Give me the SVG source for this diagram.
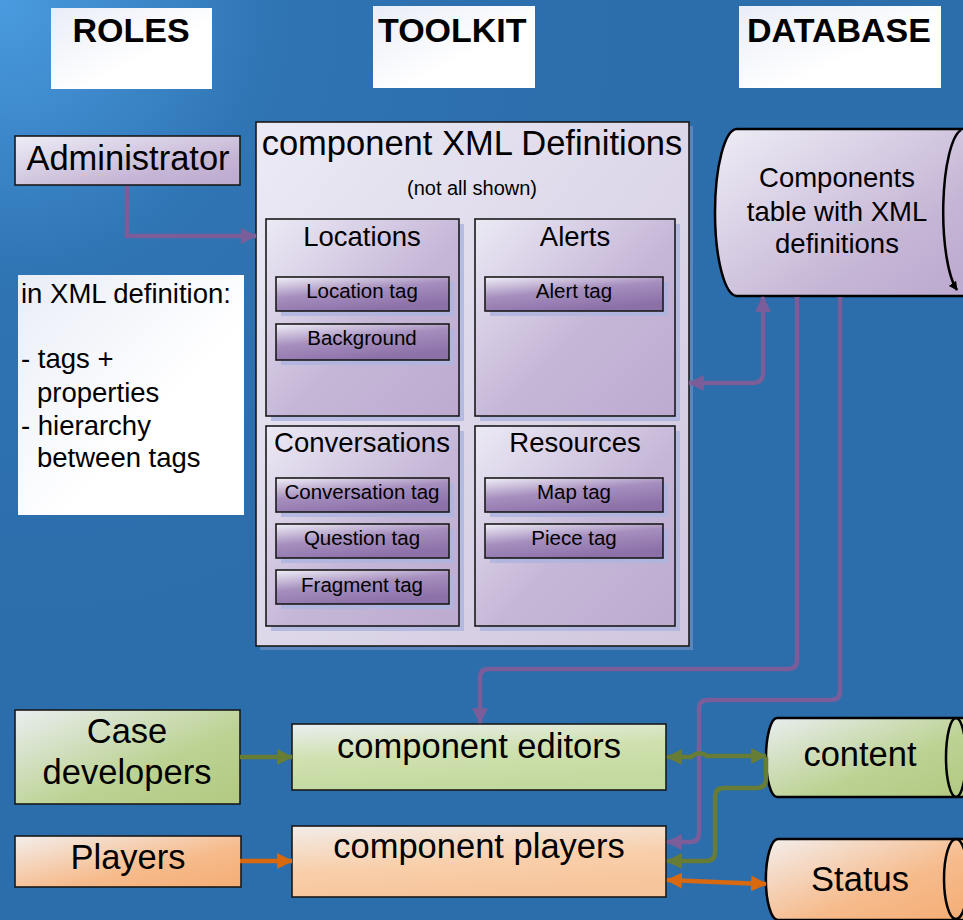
<svg xmlns="http://www.w3.org/2000/svg" width="963" height="920" viewBox="0 0 963 920">
<defs>
<radialGradient id="bg" cx="0" cy="0" r="620" gradientUnits="userSpaceOnUse">
<stop offset="0" stop-color="#4a9be0"/><stop offset="0.45" stop-color="#2f74b3"/><stop offset="1" stop-color="#2c6dab"/>
</radialGradient>
<linearGradient id="gWhite" x1="0" y1="0" x2="1" y2="1"><stop offset="0" stop-color="#e9edf7"/><stop offset="0.6" stop-color="#ffffff"/></linearGradient>
<linearGradient id="gPurple" x1="0" y1="0" x2="1" y2="1"><stop offset="0" stop-color="#eeedf6"/><stop offset="0.7" stop-color="#c5b5d5"/><stop offset="1" stop-color="#bca9cf"/></linearGradient>
<linearGradient id="gBig" x1="0" y1="0" x2="1" y2="1"><stop offset="0" stop-color="#ebeaf5"/><stop offset="1" stop-color="#d0c6de"/></linearGradient>
<linearGradient id="gSub" x1="0" y1="0" x2="1" y2="1"><stop offset="0" stop-color="#eceaf5"/><stop offset="0.55" stop-color="#c5b6d7"/><stop offset="1" stop-color="#bdabcf"/></linearGradient>
<linearGradient id="gTag" x1="0" y1="0" x2="0.5" y2="1"><stop offset="0" stop-color="#f1f0f7"/><stop offset="0.5" stop-color="#a68fbf"/><stop offset="1" stop-color="#8c70a8"/></linearGradient>
<linearGradient id="gGreen" x1="0" y1="0" x2="1" y2="1"><stop offset="0" stop-color="#e9eef0"/><stop offset="0.6" stop-color="#bcd293"/><stop offset="1" stop-color="#b2c981"/></linearGradient>
<linearGradient id="gGreenL" x1="0" y1="0" x2="0.3" y2="1"><stop offset="0" stop-color="#e9eef0"/><stop offset="0.5" stop-color="#d0e1b0"/><stop offset="1" stop-color="#c3d99f"/></linearGradient>
<linearGradient id="gOrange" x1="0" y1="0" x2="1" y2="1"><stop offset="0" stop-color="#f3eeec"/><stop offset="0.6" stop-color="#f6bb8c"/><stop offset="1" stop-color="#f5ad75"/></linearGradient>
<linearGradient id="gOrangeL" x1="0" y1="0" x2="0.3" y2="1"><stop offset="0" stop-color="#f2ece9"/><stop offset="0.6" stop-color="#f8cfaa"/><stop offset="1" stop-color="#f7c59c"/></linearGradient>
<marker id="aP" viewBox="0 0 14 14" refX="13" refY="7" markerWidth="16" markerHeight="16" markerUnits="userSpaceOnUse" orient="auto-start-reverse"><path d="M0,0 L14,7 L0,14 Z" fill="#7b5e99"/></marker>
<marker id="aG" viewBox="0 0 14 14" refX="13" refY="7" markerWidth="16" markerHeight="16" markerUnits="userSpaceOnUse" orient="auto-start-reverse"><path d="M0,0 L14,7 L0,14 Z" fill="#677c35"/></marker>
<marker id="aO" viewBox="0 0 14 14" refX="13" refY="7" markerWidth="16" markerHeight="16" markerUnits="userSpaceOnUse" orient="auto-start-reverse"><path d="M0,0 L14,7 L0,14 Z" fill="#d9690f"/></marker>
<marker id="aK" viewBox="0 0 10 10" refX="9" refY="5" markerWidth="9" markerHeight="9" markerUnits="userSpaceOnUse" orient="auto"><path d="M0,0 L10,5 L0,10 Z" fill="#000"/></marker>
</defs>
<style>
text{font-family:"Liberation Sans",Arial,sans-serif;fill:#000;}
.hdr{font-size:34px;font-weight:bold;}
.big{font-size:34.5px;text-anchor:middle;}
.mid{font-size:27.5px;text-anchor:middle;}
.sm{font-size:20.5px;text-anchor:middle;}
.box{stroke:#1a1a1a;stroke-width:1.6;}
.shadow{fill:#aeb5df;opacity:0.85;}
.cP{fill:none;stroke:#7b5e99;stroke-width:4.5;}
.cG{fill:none;stroke:#677c35;stroke-width:4.5;}
.cO{fill:none;stroke:#d9690f;stroke-width:4.5;}
</style>
<rect x="0" y="0" width="963" height="920" fill="url(#bg)"/>

<g id="hdr-roles"><rect x="51" y="8" width="161" height="81" fill="url(#gWhite)"/><text class="hdr" x="131" y="42" text-anchor="middle">ROLES</text></g>
<g id="hdr-toolkit"><rect x="373" y="6" width="162" height="82" fill="url(#gWhite)"/><text class="hdr" x="378" y="42">TOOLKIT</text></g>
<g id="hdr-database"><rect x="739" y="6" width="202" height="82" fill="url(#gWhite)"/><text class="hdr" x="839" y="42" text-anchor="middle">DATABASE</text></g>

<g id="administrator"><rect class="box" x="15" y="136" width="225" height="49" fill="url(#gPurple)"/><text class="big" x="128" y="170">Administrator</text></g>

<g id="xml-note">
<rect x="18" y="275" width="226" height="240" fill="url(#gWhite)"/>
<text style="font-size:27.5px"><tspan x="21" y="303">in XML definition:</tspan><tspan x="21" y="368">- tags +</tspan><tspan x="37" y="402">properties</tspan><tspan x="21" y="435">- hierarchy</tspan><tspan x="37" y="467">between tags</tspan></text>
</g>

<g id="toolkit">
<rect x="260" y="126" width="433" height="524" fill="#aeb5df" opacity="0.35"/>
<rect class="box" x="256" y="122" width="433" height="524" fill="url(#gBig)"/>
<text class="big" x="472" y="155">component XML Definitions</text>
<text class="sm" x="472" y="195" style="font-size:20px">(not all shown)</text>
</g>

<g id="locations">
<rect class="shadow" x="271" y="224" width="193" height="197"/>
<rect class="box" x="266" y="219" width="193" height="197" fill="url(#gSub)"/>
<text class="mid" x="362" y="246">Locations</text>
<rect class="shadow" x="281" y="282" width="173" height="34"/>
<rect class="box" x="276" y="277" width="173" height="34" fill="url(#gTag)"/>
<text class="sm" x="362" y="298">Location tag</text>
<rect class="shadow" x="281" y="329" width="173" height="36"/>
<rect class="box" x="276" y="324" width="173" height="36" fill="url(#gTag)"/>
<text class="sm" x="362" y="345">Background</text>
</g>

<g id="alerts">
<rect class="shadow" x="480" y="224" width="200" height="197"/>
<rect class="box" x="475" y="219" width="200" height="197" fill="url(#gSub)"/>
<text class="mid" x="575" y="246">Alerts</text>
<rect class="shadow" x="490" y="282" width="178" height="34"/>
<rect class="box" x="485" y="277" width="178" height="34" fill="url(#gTag)"/>
<text class="sm" x="574" y="298">Alert tag</text>
</g>

<g id="conversations">
<rect class="shadow" x="271" y="431" width="193" height="200"/>
<rect class="box" x="266" y="426" width="193" height="200" fill="url(#gSub)"/>
<text class="mid" x="362" y="452">Conversations</text>
<rect class="shadow" x="281" y="483" width="173" height="34"/>
<rect class="box" x="276" y="478" width="173" height="34" fill="url(#gTag)"/>
<text class="sm" x="362" y="499">Conversation tag</text>
<rect class="shadow" x="281" y="529" width="173" height="34"/>
<rect class="box" x="276" y="524" width="173" height="34" fill="url(#gTag)"/>
<text class="sm" x="362" y="545">Question tag</text>
<rect class="shadow" x="281" y="575" width="173" height="34"/>
<rect class="box" x="276" y="570" width="173" height="34" fill="url(#gTag)"/>
<text class="sm" x="362" y="592">Fragment tag</text>
</g>

<g id="resources">
<rect class="shadow" x="480" y="431" width="200" height="200"/>
<rect class="box" x="475" y="426" width="200" height="200" fill="url(#gSub)"/>
<text class="mid" x="575" y="452">Resources</text>
<rect class="shadow" x="490" y="483" width="178" height="34"/>
<rect class="box" x="485" y="478" width="178" height="34" fill="url(#gTag)"/>
<text class="sm" x="574" y="499">Map tag</text>
<rect class="shadow" x="490" y="529" width="178" height="34"/>
<rect class="box" x="485" y="524" width="178" height="34" fill="url(#gTag)"/>
<text class="sm" x="574" y="545">Piece tag</text>
</g>

<g id="components-table">
<path d="M737,129 H966 V296 H737 A22,83.5 0 0 1 737,129 Z" fill="url(#gPurple)" stroke="#000" stroke-width="2.5"/>
<path d="M961,130 A21,83 0 0 0 957,290" fill="none" stroke="#000" stroke-width="2.5" marker-end="url(#aK)"/>
<text class="mid" x="837" y="187">Components</text>
<text class="mid" x="837" y="221">table with XML</text>
<text class="mid" x="837" y="253">definitions</text>
</g>

<g id="case-developers"><rect class="box" x="15" y="710" width="225" height="94" fill="url(#gGreen)"/><text class="big" x="127" y="743">Case</text><text class="big" x="127" y="784">developers</text></g>
<g id="players"><rect class="box" x="15" y="836" width="226" height="51" fill="url(#gOrange)"/><text class="big" x="128" y="869">Players</text></g>
<g id="component-editors"><rect class="box" x="292" y="724" width="374" height="66" fill="url(#gGreenL)"/><text class="big" x="479" y="758">component editors</text></g>
<g id="component-players"><rect class="box" x="292" y="826" width="374" height="71" fill="url(#gOrangeL)"/><text class="big" x="479" y="858">component players</text></g>

<g id="content">
<path d="M777,718 H966 V797 H777 A11,39.5 0 0 1 777,718 Z" fill="url(#gGreen)" stroke="#000" stroke-width="2.5"/>
<ellipse cx="956" cy="757.5" rx="10" ry="39.5" fill="none" stroke="#000" stroke-width="2.5"/>
<text class="big" x="860" y="766">content</text>
</g>

<g id="status">
<path d="M778,839 H966 V920 H778 A12,40 0 0 1 778,839 Z" fill="url(#gOrange)" stroke="#000" stroke-width="2.5"/>
<ellipse cx="956" cy="879" rx="12" ry="40" fill="none" stroke="#000" stroke-width="2.5"/>
<text class="big" x="860" y="891">Status</text>
</g>

<g id="connectors">
<path class="cP" d="M127,186 V236 H256" marker-end="url(#aP)"/>
<path class="cP" d="M763,297 V373 Q763,383 753,383 H689" marker-start="url(#aP)" marker-end="url(#aP)"/>
<path class="cP" d="M797,297 V660 Q797,669 788,669 H489 Q480,669 480,678 V723" marker-end="url(#aP)"/>
<path class="cP" d="M840,297 V691 Q840,700 831,700 H708 Q699,700 699,709 V833 Q699,842 690,842 H667" marker-end="url(#aP)"/>
<path class="cG" d="M240,757 H292" marker-end="url(#aG)"/>
<path class="cG" d="M667,757 H691 Q699,750 707,756 H766" marker-start="url(#aG)" marker-end="url(#aG)"/>
<path class="cG" d="M766,757 V779 Q766,788 757,788 H724 Q715,788 715,797 V852 Q715,861 706,861 H667" marker-end="url(#aG)"/>
<path class="cO" d="M240,861 H292" marker-end="url(#aO)"/>
<path class="cO" d="M667,880 L766,884" marker-start="url(#aO)" marker-end="url(#aO)"/>
</g>
</svg>
